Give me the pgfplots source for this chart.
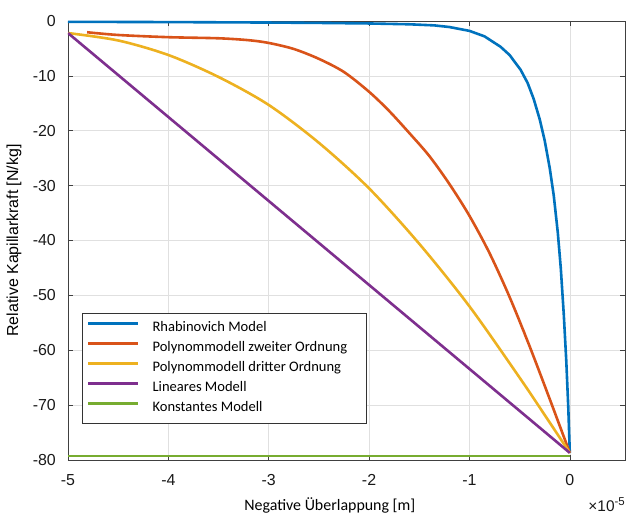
\documentclass[border=0pt]{standalone}
\usepackage{pgfplots}
\pgfplotsset{compat=1.18}
\usepackage{fontspec}
\setmainfont{Liberation Sans}
\newfontfamily\carlito{Carlito}
\definecolor{mblue}{rgb}{0,0.447,0.741}
\definecolor{mred}{rgb}{0.85,0.325,0.098}
\definecolor{myellow}{rgb}{0.929,0.694,0.125}
\definecolor{mpurple}{rgb}{0.494,0.184,0.556}
\definecolor{mgreen}{rgb}{0.466,0.674,0.188}
\begin{document}
\begin{tikzpicture}
\begin{axis}[
  name=ax, scale only axis, width=557bp, height=439bp,
  xmin=-5, xmax=0.55, ymin=-80, ymax=0,
  xtick={-5,-4,-3,-2,-1,0}, ytick={-80,-70,-60,-50,-40,-30,-20,-10,0},
  grid=major, grid style={black!12, line width=0.5bp},
  axis line style={black!75, line width=0.6bp},
  tick style={black!75, line width=0.6bp},
  tick align=inside, major tick length=5bp, tick pos=both,
  /pgf/number format/assume math mode=true,
  ticklabel style={font=\fontsize{16}{19}\selectfont, text=black!90},
  xticklabel style={inner sep=0pt, yshift=-14bp},
  yticklabel style={inner sep=0pt, xshift=-12bp},
  xlabel={Negative Überlappung [m]},
  xlabel style={at={(rel axis cs:0.47,0)}, anchor=base, yshift=-51bp, inner sep=0pt, font=\carlito\fontsize{16}{19}\selectfont},
  ylabel={Relative Kapillarkraft [N/kg]},
  ylabel style={at={(rel axis cs:0,0.5)}, anchor=center, yshift=54bp, inner sep=0pt, font=\fontsize{16}{19}\selectfont},
  legend cell align=left,
  legend style={at={(rel axis cs:0.0246,0.335)}, anchor=north west, draw=black!80, line width=0.6bp, fill=white,
    inner xsep=5bp, inner ysep=8bp, font=\carlito\fontsize{14.6}{17}\selectfont,
    nodes={inner sep=0pt, text height=10.5bp, text depth=3.5bp}, row sep=6bp, column sep=13bp},
  legend image code/.code={\draw[#1] (0bp,5bp) -- (50bp,5bp);},
]
\addplot[mblue, line width=2.6bp, mark=none] coordinates {
(-5,-0.15) (-4,-0.2) (-3,-0.28) (-2.5,-0.35) (-2,-0.45) (-1.6,-0.6) (-1.35,-0.8) (-1.2,-1.1)
(-1,-1.8) (-0.85,-2.8) (-0.69,-4.7) (-0.6,-6.2) (-0.49,-8.9) (-0.42,-11.3) (-0.36,-14.2)
(-0.3,-17.9) (-0.25,-21.8) (-0.2,-26.8) (-0.16,-31.8) (-0.12,-38.5) (-0.09,-45) (-0.06,-53.5)
(-0.035,-62) (-0.015,-70.5) (0,-78.7)};
\addlegendentry{\makebox[209bp][l]{Rhabinovich Model}}
\addplot[mred, line width=2.6bp, mark=none, smooth] coordinates {
(-4.81,-2.05) (-4.5,-2.55) (-4.0,-2.95) (-3.5,-3.15) (-3.2,-3.5) (-3.0,-4.0) (-2.75,-5.1)
(-2.5,-6.9) (-2.25,-9.3) (-2.0,-12.9) (-1.8,-16.4) (-1.6,-20.4) (-1.4,-24.6) (-1.2,-29.7)
(-1.0,-35.5) (-0.8,-42.3) (-0.6,-50.3) (-0.4,-59.3) (-0.2,-68.9) (0,-78.7)};
\addlegendentry{Polynommodell zweiter Ordnung}
\addplot[myellow, line width=2.6bp, mark=none, smooth] coordinates {
(-5,-2.2) (-4.5,-3.55) (-4,-6.2) (-3.5,-10.2) (-3,-15.3) (-2.5,-22.2) (-2,-30.5)
(-1.5,-40.6) (-1,-52) (-0.5,-65) (-0.25,-71.8) (0,-78.7)};
\addlegendentry{Polynommodell dritter Ordnung}
\addplot[mpurple, line width=2.6bp, mark=none] coordinates {(-5,-2.2) (0,-78.7)};
\addlegendentry{Lineares Modell}
\addplot[mgreen, line width=2.6bp, mark=none] coordinates {(-5,-79.3) (0,-79.3)};
\addlegendentry{Konstantes Modell}
\end{axis}
\node[anchor=base east, inner sep=0pt, text=black!90] at ([yshift=-52bp]ax.south east)
  {{\fontsize{15.5}{18}\selectfont ×10}\raisebox{6.5bp}{\fontsize{11.5}{13}\selectfont -5}};
\pgfresetboundingbox
\path[use as bounding box] ([xshift=-68bp,yshift=-54bp]ax.south west) rectangle ([xshift=3bp,yshift=21bp]ax.north east);
\end{tikzpicture}
\end{document}
